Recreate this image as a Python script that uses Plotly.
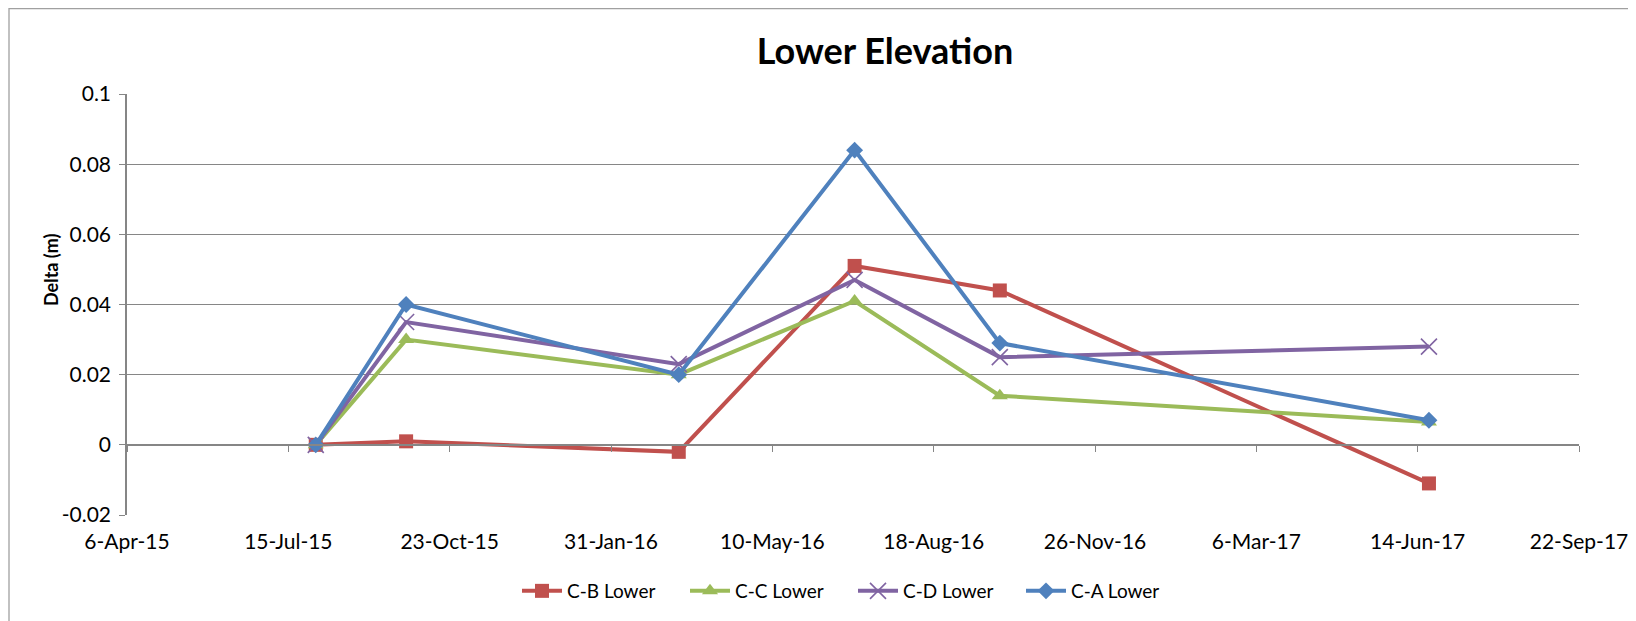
import plotly.graph_objects as go
import pandas as pd

# ---- data ----
dates = ["2015-08-01", "2015-09-26", "2016-03-13", "2016-06-30", "2016-09-28", "2017-06-21"]
cb_lower = [0.000, 0.001, -0.002, 0.051, 0.044, -0.011]
cc_lower = [0.000, 0.030, 0.020, 0.041, 0.014, 0.0065]
cd_lower = [0.000, 0.035, 0.023, 0.047, 0.025, 0.028]
ca_lower = [0.000, 0.040, 0.020, 0.084, 0.029, 0.007]

series_names = ["C-B Lower", "C-C Lower", "C-D Lower", "C-A Lower"]
series_values = [cb_lower, cc_lower, cd_lower, ca_lower]
series_colors = ["#C0504D", "#9BBB59", "#8064A2", "#4F81BD"]
series_symbols = ["square", "triangle-up", "x-thin-open", "diamond"]
series_sizes = [14, 14, 16, 13]

x_start, x_end = "2015-04-06", "2017-09-22"
x_tick_dates = pd.date_range(x_start, x_end, freq="100D")
x_tick_text = [f"{d.day}-{d.strftime('%b-%y')}" for d in x_tick_dates]
y_tick_vals = [-0.02, 0, 0.02, 0.04, 0.06, 0.08, 0.1]
y_tick_text = ["-0.02", "0", "0.02", "0.04", "0.06", "0.08", "0.1"]

GRID = "#868686"
FONT = "Lato"
FS = 21

# figure is placed at an 8px page offset (body margin); layout numbers are in figure pixels
W, H = 1628, 613
L, R, T, B = 119, 57, 86, 106
PW, PH = W - L - R, H - T - B

fig = go.Figure()
for name, vals, col, sym, sz in zip(series_names, series_values, series_colors, series_symbols, series_sizes):
    marker = dict(symbol=sym, size=sz, color=col)
    if sym.endswith("open"):
        marker["line"] = dict(color=col, width=1.6)
    fig.add_trace(go.Scatter(
        x=pd.to_datetime(dates), y=vals, name=name, mode="lines+markers",
        line=dict(color=col, width=4), marker=marker,
    ))

fig.update_layout(
    template="none",
    width=W, height=H,
    paper_bgcolor="white", plot_bgcolor="white",
    margin=dict(l=L, r=R, t=T, b=B, autoexpand=False),
    font=dict(family=FONT, size=FS, color="black"),
    title=dict(text="<b>Lower Elevation</b>", x=877 / W, xref="container", xanchor="center",
               y=1 - 43 / H, yref="container", yanchor="middle",
               font=dict(family=FONT, size=36, color="black")),
    showlegend=True,
    legend=dict(orientation="h", x=0.5, xanchor="center", y=(H - B - 583) / PH, yanchor="middle",
                font=dict(family=FONT, size=19), itemwidth=40, tracegroupgap=0,
                entrywidth=113, entrywidthmode="pixels", bgcolor="rgba(0,0,0,0)"),
    xaxis=dict(range=[pd.Timestamp(x_start), pd.Timestamp(x_end)], tickmode="array",
               tickvals=x_tick_dates, ticktext=x_tick_text, showgrid=False, zeroline=False,
               showline=False, ticks="", ticklabelstandoff=12, automargin=False,
               tickfont=dict(family=FONT, size=FS)),
    xaxis2=dict(range=[pd.Timestamp(x_start), pd.Timestamp(x_end)], overlaying="x", anchor="free",
                position=(0 - (-0.02)) / 0.12, tickmode="array", tickvals=x_tick_dates,
                showticklabels=False, showgrid=False, zeroline=False, showline=True, automargin=False,
                linecolor=GRID, linewidth=1.5, ticks="outside", ticklen=6, tickcolor=GRID, tickwidth=1.3),
    yaxis=dict(range=[-0.02, 0.1], tickmode="array", tickvals=y_tick_vals, ticktext=y_tick_text,
               showgrid=True, gridcolor=GRID, gridwidth=1.3, zeroline=False, showline=True,
               linecolor=GRID, linewidth=1.5, ticks="outside", ticklen=6, tickcolor=GRID,
               tickwidth=1.3, ticklabelstandoff=4, automargin=False,
               tickfont=dict(family=FONT, size=FS)),
)

# invisible helper so the overlaying x axis (drawn through y = 0) is rendered
fig.add_trace(go.Scatter(x=pd.to_datetime(dates), y=ca_lower, xaxis="x2", mode="lines",
                         line=dict(width=0), opacity=0, showlegend=False, hoverinfo="skip"))

fig.add_annotation(text="<b>Delta (m)</b>", xref="paper", yref="paper", x=(43 - L) / PW,
                   y=(H - B - 262) / PH, xanchor="center", yanchor="middle", textangle=-90,
                   showarrow=False, font=dict(family=FONT, size=18, color="black"))

# outer chart border (top and left edges visible in the reference)
fig.add_shape(type="rect", xref="paper", yref="paper",
              x0=(1 - L) / PW, x1=(1700 - L) / PW,
              y0=(H - B - 700) / PH, y1=(H - B - 0.7) / PH,
              line=dict(color="#A0A0A0", width=1.3), fillcolor="rgba(0,0,0,0)", layer="below")

fig.write_html("out.html")
